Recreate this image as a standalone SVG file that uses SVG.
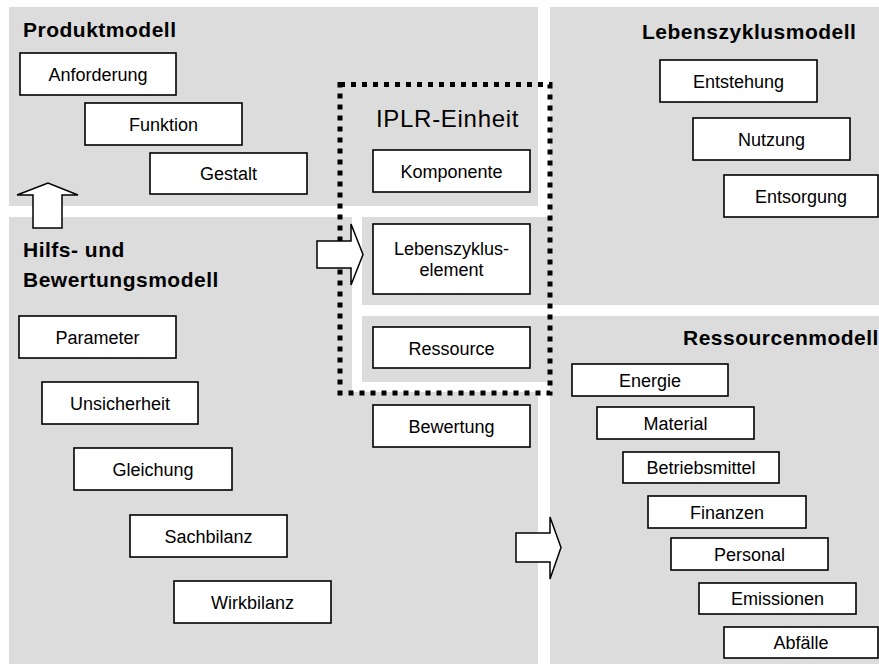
<svg xmlns="http://www.w3.org/2000/svg" width="879" height="664" viewBox="0 0 879 664">
  <style>
    .area { fill: #dcdcdc; stroke: none; }
    .box { fill: #ffffff; stroke: #000000; stroke-width: 1.6; }
    .lbl { font-family: "Liberation Sans", Arial, sans-serif; font-size: 18px; fill: #000000; text-anchor: middle; }
    .title { font-family: "Liberation Sans", Arial, sans-serif; font-size: 21px; font-weight: bold; letter-spacing: 0.5px; fill: #000000; }
    .unit { font-family: "Liberation Sans", Arial, sans-serif; font-size: 24px; letter-spacing: 0.7px; fill: #000000; }
    .frame { fill: none; stroke: #000000; stroke-width: 5; stroke-dasharray: 5 6; }
    .arrow { fill: #ffffff; stroke: #000000; stroke-width: 1.5; stroke-linejoin: miter; }
  </style>

  <rect width="879" height="664" fill="#ffffff"/>

  <!-- model areas -->
  <g id="areas">
    <rect id="area-produkt" class="area" x="9" y="7" width="529" height="199"/>
    <path id="area-lebenszyklus" class="area" d="M550,7 H879 V305 H362 V217 H550 Z"/>
    <path id="area-hilfs" class="area" d="M9,217 H352 V392 H538 V664 H9 Z"/>
    <path id="area-ressourcen" class="area" d="M362,316 H879 V664 H550 V382 H362 Z"/>
  </g>

  <!-- area titles -->
  <g id="titles">
    <text class="title" x="23" y="37">Produktmodell</text>
    <text class="title" x="642" y="39">Lebenszyklusmodell</text>
    <text class="title" x="23" y="257">Hilfs- und</text>
    <text class="title" x="23" y="287">Bewertungsmodell</text>
    <text class="title" x="683" y="345">Ressourcenmodell</text>
  </g>

  <!-- IPLR unit frame -->
  <g id="iplr-einheit">
    <rect class="frame" x="340" y="84.5" width="210" height="308.5"/>
    <text class="unit" x="376" y="127">IPLR-Einheit</text>
  </g>

  <!-- product model -->
  <g id="anforderung"><rect class="box" x="20" y="53" width="156" height="42"/><text class="lbl" x="98" y="81">Anforderung</text></g>
  <g id="funktion"><rect class="box" x="85" y="103" width="157" height="42"/><text class="lbl" x="163.5" y="131">Funktion</text></g>
  <g id="gestalt"><rect class="box" x="150" y="153" width="157" height="41"/><text class="lbl" x="228.5" y="180">Gestalt</text></g>

  <!-- IPLR unit elements -->
  <g id="komponente"><rect class="box" x="373" y="150" width="157" height="42"/><text class="lbl" x="451.5" y="178">Komponente</text></g>
  <g id="lebenszyklus-element"><rect class="box" x="373" y="224" width="157" height="70"/><text class="lbl" x="451.5" y="255">Lebenszyklus-</text><text class="lbl" x="451.5" y="276">element</text></g>
  <g id="ressource"><rect class="box" x="373" y="327" width="157" height="41"/><text class="lbl" x="451.5" y="355">Ressource</text></g>
  <g id="bewertung"><rect class="box" x="373" y="405" width="157" height="42"/><text class="lbl" x="451.5" y="433">Bewertung</text></g>

  <!-- life cycle model -->
  <g id="entstehung"><rect class="box" x="660" y="60" width="157" height="42"/><text class="lbl" x="738.5" y="88">Entstehung</text></g>
  <g id="nutzung"><rect class="box" x="693" y="118" width="157" height="42"/><text class="lbl" x="771.5" y="146">Nutzung</text></g>
  <g id="entsorgung"><rect class="box" x="724" y="175" width="154" height="42"/><text class="lbl" x="801" y="203">Entsorgung</text></g>

  <!-- auxiliary and evaluation model -->
  <g id="parameter"><rect class="box" x="19" y="316" width="157" height="42"/><text class="lbl" x="97.5" y="344">Parameter</text></g>
  <g id="unsicherheit"><rect class="box" x="42" y="382" width="156" height="42"/><text class="lbl" x="120" y="410">Unsicherheit</text></g>
  <g id="gleichung"><rect class="box" x="74" y="448" width="158" height="42"/><text class="lbl" x="153" y="476">Gleichung</text></g>
  <g id="sachbilanz"><rect class="box" x="130" y="515" width="157" height="42"/><text class="lbl" x="208.5" y="543">Sachbilanz</text></g>
  <g id="wirkbilanz"><rect class="box" x="174" y="581" width="157" height="42"/><text class="lbl" x="252.5" y="609">Wirkbilanz</text></g>

  <!-- resource model -->
  <g id="energie"><rect class="box" x="572" y="364" width="156" height="32"/><text class="lbl" x="650" y="386.5">Energie</text></g>
  <g id="material"><rect class="box" x="597" y="407" width="157" height="32"/><text class="lbl" x="675.5" y="429.5">Material</text></g>
  <g id="betriebsmittel"><rect class="box" x="623" y="452" width="156" height="31"/><text class="lbl" x="701" y="474">Betriebsmittel</text></g>
  <g id="finanzen"><rect class="box" x="648" y="496" width="158" height="32"/><text class="lbl" x="727" y="518.5">Finanzen</text></g>
  <g id="personal"><rect class="box" x="671" y="538" width="157" height="32"/><text class="lbl" x="749.5" y="560.5">Personal</text></g>
  <g id="emissionen"><rect class="box" x="699" y="583" width="157" height="31"/><text class="lbl" x="777.5" y="605">Emissionen</text></g>
  <g id="abfaelle"><rect class="box" x="724" y="627" width="154" height="31"/><text class="lbl" x="801" y="649">Abfälle</text></g>

  <!-- block arrows between the models -->
  <g id="connectors">
    <polygon class="arrow" points="33,228 33,195 17,195 48,183 78,195 62,195 62,228"/>
    <polygon class="arrow" points="317,241 351,241 351,224 363,254.5 351,285 351,268 317,268"/>
    <polygon class="arrow" points="516,533 550,533 550,517 561,547.5 550,579 550,562 516,562"/>
  </g>
</svg>
